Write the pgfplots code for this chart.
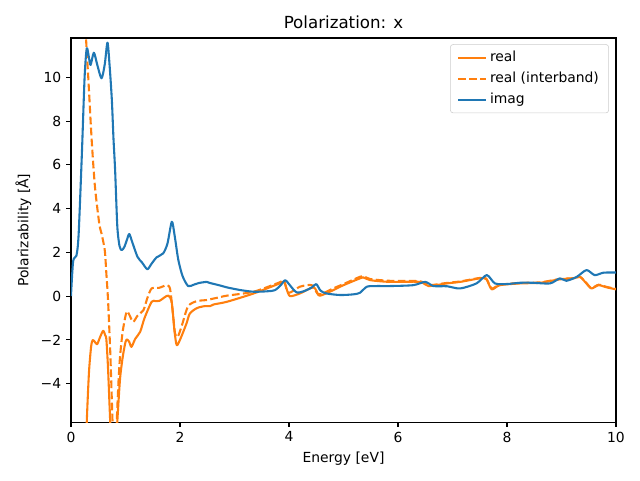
\documentclass[border=0pt]{standalone}
\usepackage{fontspec}
\setmainfont{DejaVu Sans}
\usepackage{pgfplots}
\pgfplotsset{compat=1.18}
\definecolor{mplorange}{HTML}{FF7F0E}
\definecolor{mplblue}{HTML}{1F77B4}
\begin{document}
\begin{tikzpicture}
\begin{axis}[name=ax, scale only axis, width=392.4pt, height=276.5pt,
  xmin=0, xmax=10, ymin=-5.76, ymax=11.8,
  xtick={0,2,...,10}, ytick={-4,-2,...,10},
  yticklabels={−4,−2,0,2,4,6,8,10},
  xticklabels={0,2,4,6,8,10},
  tick align=outside, tick pos=left, major tick length=3.5pt,
  tick style={black, line width=0.8pt}, axis line style={line width=0.8pt},
  title={Polarization: x},
  title style={font=\fontsize{12}{14}\selectfont, yshift=-3pt},
  xlabel={Energy [eV]}, ylabel={Polarizability [Å]},
  label style={font=\fontsize{10}{12}\selectfont},
  ticklabel style={font=\fontsize{10}{12}\selectfont},
  /pgf/number format/assume math mode=true,
  legend cell align=left,
  legend style={at={(0.987,0.984)}, anchor=north east, draw=black!20, rounded corners=2pt,
    fill=white, fill opacity=0.8, text opacity=1, draw opacity=1,
    font=\fontsize{10}{12}\selectfont, row sep=2pt, inner xsep=5pt, inner ysep=3pt},
  legend image code/.code={\draw[#1] (0pt,0pt) -- (20pt,0pt);},
  every axis plot/.append style={smooth, tension=0.45, line join=round},
]
\addplot[mplorange, line width=1.5pt] coordinates {
(0.05,-30) (0.25,-9) (0.29,-5.75) (0.33,-3.5) (0.37,-2.3) (0.40,-2.01) (0.44,-2.1)
(0.48,-2.2) (0.53,-1.9) (0.59,-1.59) (0.63,-1.8) (0.65,-2.0) (0.68,-3.3) (0.72,-5.75)
(0.76,-8) (0.80,-8) (0.85,-5.75) (0.90,-3.8) (0.95,-2.78) (1.00,-2.1) (1.03,-1.98)
(1.07,-2.1) (1.11,-2.32) (1.18,-1.95) (1.27,-1.63) (1.35,-1.0) (1.48,-0.26) (1.55,-0.23)
(1.63,-0.21) (1.72,-0.05) (1.79,0.02) (1.85,-0.3) (1.90,-1.6) (1.94,-2.24) (2.0,-2.0)
(2.12,-1.25) (2.18,-0.8) (2.31,-0.55) (2.45,-0.46) (2.55,-0.46) (2.62,-0.38) (2.86,-0.26)
(3.35,0.12) (3.83,0.58) (3.91,0.65) (3.96,0.3) (4.02,0.0) (4.2,0.12) (4.45,0.40)
(4.54,0.05) (4.6,0.04) (4.81,0.27) (5.0,0.5) (5.30,0.81) (5.36,0.86) (5.49,0.73)
(5.85,0.65) (6.40,0.65) (6.56,0.46) (6.89,0.58) (7.14,0.65) (7.50,0.81) (7.62,0.78)
(7.72,0.31) (7.87,0.5) (8.24,0.58) (8.61,0.61) (8.97,0.77) (9.22,0.81) (9.34,0.88)
(9.45,0.6) (9.55,0.35) (9.68,0.5) (9.83,0.4) (10,0.31)
};
\addlegendentry{real}
\addplot[mplorange, line width=1.5pt, dash pattern=on 5.55pt off 2.4pt] coordinates {
(0.05,40) (0.2,16) (0.275,11.86) (0.32,9.88) (0.38,7.14) (0.44,5.0) (0.52,3.3)
(0.56,2.87) (0.62,2.1) (0.65,1.0) (0.68,-0.18) (0.72,-2.5) (0.75,-4.76) (0.78,-7)
(0.81,-8) (0.84,-5.75) (0.87,-4.0) (0.90,-2.78) (0.95,-1.6) (1.02,-0.72) (1.07,-0.85)
(1.14,-1.18) (1.22,-0.9) (1.33,-0.64) (1.40,-0.1) (1.48,0.35) (1.62,0.38) (1.76,0.5)
(1.82,0.31) (1.87,-0.8) (1.91,-1.71) (1.96,-1.86) (2.04,-1.3) (2.15,-0.46) (2.31,-0.23)
(2.49,-0.18) (2.6,-0.12) (2.73,-0.05) (2.86,0.02) (3.35,0.2) (3.81,0.61) (3.91,0.70)
(3.99,0.15) (4.2,0.43) (4.42,0.5) (4.52,0.12) (4.6,0.1) (4.81,0.35) (5.0,0.55)
(5.3,0.88) (5.38,0.9) (5.49,0.78) (5.85,0.7) (6.40,0.68) (6.56,0.5) (6.89,0.6)
(7.14,0.67) (7.50,0.83) (7.62,0.8) (7.72,0.35) (7.87,0.52) (8.24,0.6) (8.61,0.63)
(8.97,0.78) (9.22,0.82) (9.34,0.88) (9.45,0.62) (9.55,0.37) (9.68,0.52) (9.83,0.42)
(10,0.33)
};
\addlegendentry{real (interband)}
\addplot[mplblue, line width=1.5pt] coordinates {
(0,0) (0.04,1.6) (0.1,1.85) (0.14,2.8) (0.2,6.5) (0.25,10) (0.29,11.33) (0.33,10.9)
(0.36,10.57) (0.42,11.13) (0.48,10.6) (0.56,9.96) (0.62,10.6) (0.67,11.59) (0.71,10.5)
(0.75,8.97) (0.78,7.2) (0.81,5.76) (0.85,3.2) (0.89,2.3) (0.93,2.1) (0.98,2.25)
(1.03,2.6) (1.07,2.84) (1.12,2.5) (1.22,1.8) (1.30,1.55) (1.40,1.23) (1.47,1.45)
(1.57,1.77) (1.69,1.95) (1.77,2.4) (1.85,3.40) (1.90,2.8) (1.97,1.65) (2.05,0.9)
(2.15,0.46) (2.25,0.52) (2.35,0.6) (2.49,0.65) (2.55,0.6) (2.73,0.49) (2.86,0.40)
(3.1,0.28) (3.35,0.2) (3.6,0.22) (3.74,0.27) (3.85,0.5) (3.93,0.73) (4.0,0.55)
(4.14,0.17) (4.3,0.25) (4.42,0.4) (4.50,0.55) (4.58,0.25) (4.69,0.12) (4.94,0.05)
(5.18,0.08) (5.30,0.15) (5.43,0.43) (5.6,0.46) (5.85,0.46) (6.28,0.5) (6.50,0.65)
(6.65,0.46) (6.9,0.45) (7.14,0.35) (7.44,0.58) (7.63,0.96) (7.78,0.58) (7.99,0.55)
(8.24,0.61) (8.48,0.61) (8.79,0.58) (8.97,0.81) (9.09,0.70) (9.28,0.88) (9.46,1.19)
(9.61,0.96) (9.77,1.07) (10,1.08)
};
\addlegendentry{imag}
\end{axis}
\pgfresetboundingbox
\path ([shift={(-51.1pt,-41.8pt)}]ax.south west) rectangle ([shift={(17.3pt,27.4pt)}]ax.north east);
\end{tikzpicture}
\end{document}
